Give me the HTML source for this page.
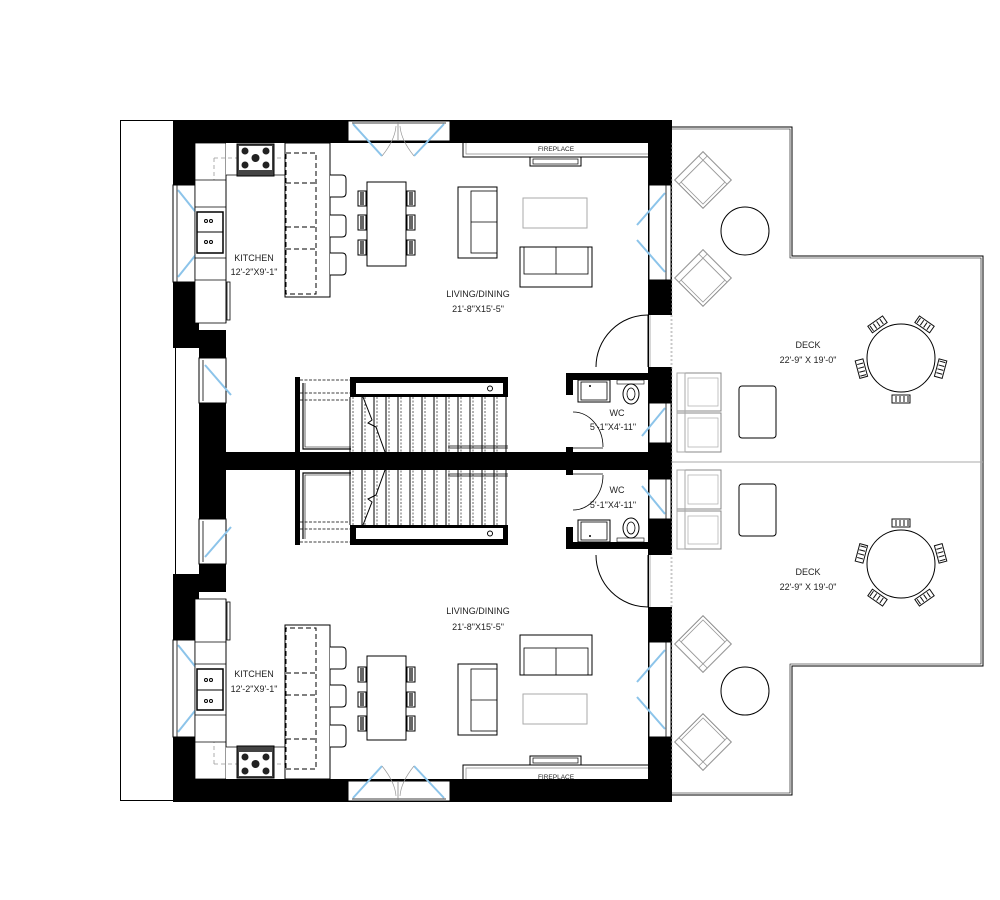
<!DOCTYPE html>
<html><head><meta charset="utf-8"><style>
html,body{margin:0;padding:0;background:#fff;width:1000px;height:900px;overflow:hidden}
svg{display:block;background:#fff}
text{font-family:"Liberation Sans",sans-serif;fill:#222}
</style></head><body>
<svg width="1000" height="900" viewBox="0 0 1000 900" xmlns="http://www.w3.org/2000/svg">
<defs>
<g id="chair">
 <rect x="-9" y="-5" width="18" height="8" fill="#fff" stroke="#111" stroke-width="1"/>
 <line x1="-7" y1="-4" x2="-7" y2="2" stroke="#111"/><line x1="-3" y1="-4" x2="-3" y2="2" stroke="#111"/><line x1="1" y1="-4" x2="1" y2="2" stroke="#111"/><line x1="5" y1="-4" x2="5" y2="2" stroke="#111"/>
</g>
<g id="arm">
 <rect x="-20" y="-20" width="40" height="40" fill="#fff" stroke="#888" stroke-width="1"/>
 <rect x="-14" y="-14" width="31" height="31" fill="none" stroke="#999" stroke-width="0.8"/>
 <rect x="-20" y="-20" width="6" height="40" fill="none" stroke="#999" stroke-width="0.8"/>
 <rect x="-20" y="-20" width="40" height="6" fill="none" stroke="#999" stroke-width="0.8"/>
</g>
<g id="half">
 <polygon points="672,128 791,128 791,257 982,257 982,462 672,462" fill="#fff" stroke="none"/>
 <!-- walls -->
 <rect x="173" y="120" width="499" height="23" fill="#000"/>
 <rect x="173" y="120" width="22" height="228" fill="#000"/>
 <rect x="173" y="282" width="26" height="66" fill="#000"/>
 <rect x="199" y="330" width="27" height="132" fill="#000"/>
 <rect x="648" y="120" width="24" height="342" fill="#000"/>
 <rect x="199" y="452" width="473" height="10" fill="#000"/>
 <!-- top window -->
 <rect x="348" y="121" width="102" height="20" fill="#fff" stroke="#000" stroke-width="1"/>
 <line x1="352" y1="123" x2="446" y2="123" stroke="#000" stroke-width="0.8"/>
 <line x1="398" y1="121" x2="398" y2="141" stroke="#888" stroke-width="0.8"/>
 <line x1="353" y1="124" x2="382" y2="156" stroke="#8cc4ea" stroke-width="2"/>
 <line x1="444" y1="124" x2="414" y2="156" stroke="#8cc4ea" stroke-width="2"/>
 <path d="M382 156 Q395 140 396 126 M414 156 Q401 140 400 126" fill="none" stroke="#999" stroke-width="0.7"/>
 <!-- left kitchen window -->
 <rect x="173" y="185" width="22" height="97" fill="#fff" stroke="#000" stroke-width="1"/>
 <line x1="177" y1="185" x2="177" y2="282" stroke="#000" stroke-width="0.8"/>
 <line x1="178" y1="190" x2="198" y2="215" stroke="#8cc4ea" stroke-width="2"/>
 <line x1="178" y1="277" x2="198" y2="252" stroke="#8cc4ea" stroke-width="2"/>
 <!-- small left window -->
 <rect x="199" y="358" width="27" height="45" fill="#fff" stroke="#000" stroke-width="1"/>
 <line x1="203" y1="360" x2="203" y2="401" stroke="#000" stroke-width="0.8"/>
 <line x1="205" y1="365" x2="231" y2="395" stroke="#8cc4ea" stroke-width="2"/>
 <!-- right window -->
 <rect x="649" y="185" width="22" height="95" fill="#fff" stroke="#000" stroke-width="1"/>
 <line x1="666" y1="185" x2="666" y2="280" stroke="#000" stroke-width="0.8"/>
 <line x1="665" y1="193" x2="637" y2="225" stroke="#8cc4ea" stroke-width="2"/>
 <line x1="665" y1="272" x2="637" y2="240" stroke="#8cc4ea" stroke-width="2"/>
 <!-- door opening -->
 <rect x="649" y="315" width="23" height="52" fill="#fff"/>
 <line x1="650" y1="315" x2="650" y2="367" stroke="#999" stroke-width="0.8"/>
 <line x1="671" y1="315" x2="671" y2="367" stroke="#bbb" stroke-width="0.8" stroke-dasharray="2 2"/>
 <path d="M648 315 A52 52 0 0 0 596 367" fill="none" stroke="#000" stroke-width="1"/>
 <line x1="648" y1="315" x2="648" y2="367" stroke="#000" stroke-width="1"/>
 <!-- WC window -->
 <rect x="649" y="403" width="22" height="40" fill="#fff" stroke="#000" stroke-width="1"/>
 <line x1="666" y1="403" x2="666" y2="443" stroke="#000" stroke-width="0.8"/>
 <line x1="665" y1="408" x2="642" y2="436" stroke="#8cc4ea" stroke-width="2"/>
 <!-- fireplace -->
 <path d="M463 143 V157 H648" fill="none" stroke="#000" stroke-width="1"/>
 <path d="M466 143 V154 H648" fill="none" stroke="#888" stroke-width="0.7"/>
 <rect x="530" y="157" width="51" height="9" fill="#fff" stroke="#000" stroke-width="1"/>
 <rect x="533" y="159" width="45" height="5" fill="none" stroke="#000" stroke-width="0.7"/>
 <!-- kitchen counters -->
 <rect x="195" y="143" width="31" height="180" fill="#fff" stroke="#000" stroke-width="0.8"/>
 <rect x="226" y="143" width="104" height="32" fill="#fff" stroke="none"/>
 <line x1="226" y1="175" x2="285" y2="175" stroke="#000" stroke-width="0.8"/>
 <line x1="226" y1="175" x2="226" y2="323" stroke="#000" stroke-width="0.8"/>
 <line x1="214" y1="158" x2="285" y2="158" stroke="#999" stroke-width="0.8" stroke-dasharray="4 3"/>
 <line x1="214" y1="158" x2="214" y2="180" stroke="#999" stroke-width="0.8" stroke-dasharray="4 3"/>
 <line x1="195" y1="180" x2="226" y2="180" stroke="#000" stroke-width="0.8"/>
 <line x1="195" y1="207" x2="226" y2="207" stroke="#000" stroke-width="0.8"/>
 <line x1="195" y1="258" x2="226" y2="258" stroke="#000" stroke-width="0.8"/>
 <line x1="195" y1="280" x2="226" y2="280" stroke="#000" stroke-width="0.8"/>
 <rect x="197" y="212" width="26" height="41" fill="#fff" stroke="#000" stroke-width="1.5"/>
 <line x1="197" y1="232" x2="223" y2="232" stroke="#000" stroke-width="1"/>
 <circle cx="206" cy="221" r="1.5" fill="none" stroke="#000"/><circle cx="211" cy="221" r="1.5" fill="none" stroke="#000"/>
 <circle cx="206" cy="242" r="1.5" fill="none" stroke="#000"/><circle cx="211" cy="242" r="1.5" fill="none" stroke="#000"/>
 <rect x="227" y="282" width="3" height="38" fill="#fff" stroke="#000" stroke-width="0.8"/>
 <!-- stove -->
 <rect x="237" y="144" width="37" height="32" fill="#444" stroke="#000"/>
 <rect x="239" y="146" width="33" height="24" fill="#fff"/>
 <circle cx="245" cy="151" r="3.5" fill="#222"/><circle cx="266" cy="151" r="3.5" fill="#222"/>
 <circle cx="245" cy="165" r="3.5" fill="#222"/><circle cx="266" cy="165" r="3.5" fill="#222"/>
 <circle cx="255.5" cy="158" r="4" fill="#222"/>
 <!-- island -->
 <rect x="285" y="143" width="45" height="154" fill="#fff" stroke="#000" stroke-width="1"/>
 <rect x="286" y="153" width="30" height="141" fill="none" stroke="#000" stroke-width="1" stroke-dasharray="5 3"/>
 <path d="M286 183 H316 M286 227 H316 M286 249 H316" stroke="#000" stroke-width="1" stroke-dasharray="5 3" fill="none"/>
 <path d="M330 175 H342 Q346 175 346 179 V193 Q346 197 342 197 H330" fill="#fff" stroke="#000"/>
 <path d="M330 215 H342 Q346 215 346 219 V233 Q346 237 342 237 H330" fill="#fff" stroke="#000"/>
 <path d="M330 253 H342 Q346 253 346 257 V271 Q346 275 342 275 H330" fill="#fff" stroke="#000"/>
 <!-- dining table -->
 <rect x="367" y="182" width="39" height="84" fill="#fff" stroke="#000"/>
 <g fill="#fff" stroke="#000">
 <rect x="358" y="191" width="8" height="15"/><rect x="358" y="215" width="8" height="15"/><rect x="358" y="240" width="8" height="15"/>
 <rect x="407" y="191" width="8" height="15"/><rect x="407" y="215" width="8" height="15"/><rect x="407" y="240" width="8" height="15"/>
 </g>
 <path d="M361 192 V205 M363 192 V205 M361 216 V229 M363 216 V229 M361 241 V254 M363 241 V254 M410 192 V205 M412 192 V205 M410 216 V229 M412 216 V229 M410 241 V254 M412 241 V254" stroke="#000" stroke-width="1.2" fill="none"/>
 <!-- sofas -->
 <rect x="458" y="187" width="39" height="71" fill="#fff" stroke="#000"/>
 <rect x="471" y="191" width="26" height="62" fill="none" stroke="#000" stroke-width="0.8"/>
 <line x1="471" y1="222" x2="497" y2="222" stroke="#000" stroke-width="0.8"/>
 <rect x="523" y="198" width="64" height="30" fill="none" stroke="#aaa"/>
 <rect x="520" y="247" width="72" height="40" fill="#fff" stroke="#000"/>
 <rect x="524" y="247" width="64" height="27" fill="none" stroke="#000" stroke-width="0.8"/>
 <line x1="556" y1="247" x2="556" y2="274" stroke="#000" stroke-width="0.8"/>
 <!-- WC -->
 <rect x="566" y="373" width="82" height="7" fill="#000"/>
 <rect x="566" y="373" width="7" height="22" fill="#000"/>
 <rect x="566" y="447" width="7" height="6" fill="#000"/>
 <rect x="578" y="380" width="32" height="22" fill="#fff" stroke="#000"/>
 <rect x="581" y="382" width="26" height="18" fill="none" stroke="#000" stroke-width="0.8"/>
 <circle cx="590" cy="386" r="1" fill="#000"/>
 <rect x="617" y="380" width="27" height="4" fill="#fff" stroke="#000" stroke-width="0.6"/>
 <ellipse cx="631" cy="394" rx="8" ry="10" fill="#fff" stroke="#000"/>
 <ellipse cx="631" cy="394" rx="4" ry="6" fill="none" stroke="#000" stroke-width="0.8"/>
 <path d="M573 412 A30 35 0 0 1 603 447" fill="none" stroke="#000" stroke-width="0.8"/>
 <line x1="573" y1="448" x2="603" y2="448" stroke="#000" stroke-width="0.8"/>
 <!-- stairs -->
 <rect x="295" y="377" width="5" height="75" fill="#000"/>
 <rect x="350" y="377" width="158" height="20" fill="#000"/>
 <rect x="356" y="383" width="147" height="11" fill="#fff"/>
 <circle cx="490" cy="388.5" r="2.5" fill="none" stroke="#000"/>
 <path d="M300 380 H350 M300 393 H350 M300 400 H350" stroke="#000" stroke-width="0.8" stroke-dasharray="3 1.5" fill="none"/>
 <path d="M303 383 V449 H351" fill="none" stroke="#000" stroke-width="1.2"/>
 <path d="M305 383 V447 H351" fill="none" stroke="#000" stroke-width="0.6"/>
 <g stroke="#000" stroke-width="1">
 <line x1="350" y1="397" x2="350" y2="452"/><line x1="362" y1="397" x2="362" y2="452"/><line x1="374" y1="397" x2="374" y2="452"/><line x1="386" y1="397" x2="386" y2="452"/><line x1="398" y1="397" x2="398" y2="452"/><line x1="410" y1="397" x2="410" y2="452"/><line x1="422" y1="397" x2="422" y2="452"/><line x1="434" y1="397" x2="434" y2="452"/><line x1="446" y1="397" x2="446" y2="452"/><line x1="458" y1="397" x2="458" y2="452"/><line x1="470" y1="397" x2="470" y2="452"/><line x1="482" y1="397" x2="482" y2="452"/><line x1="494" y1="397" x2="494" y2="452"/><line x1="506" y1="397" x2="506" y2="452"/>
 </g>
 <g stroke="#000" stroke-width="0.6" stroke-dasharray="2 1.5">
 <line x1="353" y1="397" x2="353" y2="452"/><line x1="365" y1="397" x2="365" y2="452"/><line x1="377" y1="397" x2="377" y2="452"/><line x1="389" y1="397" x2="389" y2="452"/><line x1="401" y1="397" x2="401" y2="452"/><line x1="413" y1="397" x2="413" y2="452"/><line x1="425" y1="397" x2="425" y2="452"/><line x1="437" y1="397" x2="437" y2="452"/><line x1="449" y1="397" x2="449" y2="452"/><line x1="461" y1="397" x2="461" y2="452"/><line x1="473" y1="397" x2="473" y2="452"/><line x1="485" y1="397" x2="485" y2="452"/><line x1="497" y1="397" x2="497" y2="452"/>
 </g>
 <path d="M363 397 L372 420 L368 423 L376 427 L385 452" fill="none" stroke="#000" stroke-width="1"/>
 <path d="M448 448 H508 M448 446 H508" stroke="#000" stroke-width="0.8" fill="none"/>
 <!-- deck -->
 <path d="M672 127 H792 V256 H983 V462" fill="none" stroke="#000" stroke-width="1"/>
 <path d="M672 129 H790 V258 H981 V462" fill="none" stroke="#000" stroke-width="0.6"/>
 <line x1="672" y1="143" x2="672" y2="462" stroke="#bbb" stroke-width="0.8" stroke-dasharray="2 2"/>
 <use href="#arm" transform="translate(703,180) rotate(45)"/>
 <use href="#arm" transform="translate(703,278) rotate(45)"/>
 <circle cx="745" cy="231" r="24" fill="#fff" stroke="#000" stroke-width="1"/>
 <use href="#chair" transform="translate(901,358) rotate(-35) translate(0,-40)"/>
 <use href="#chair" transform="translate(901,358) rotate(35) translate(0,-40)"/>
 <use href="#chair" transform="translate(901,358) rotate(-105) translate(0,-40)"/>
 <use href="#chair" transform="translate(901,358) rotate(105) translate(0,-40)"/>
 <use href="#chair" transform="translate(901,358) rotate(180) translate(0,-40)"/>
 <circle cx="901" cy="358" r="34" fill="#fff" stroke="#000" stroke-width="1"/>
 <rect x="677" y="373" width="44" height="38" fill="#fff" stroke="#888"/>
 <rect x="677" y="413" width="44" height="39" fill="#fff" stroke="#888"/>
 <rect x="677" y="373" width="8" height="79" fill="none" stroke="#aaa"/>
 <rect x="688" y="378" width="30" height="28" fill="none" stroke="#aaa" stroke-width="0.7"/>
 <rect x="688" y="418" width="30" height="29" fill="none" stroke="#aaa" stroke-width="0.7"/>
 <rect x="739" y="386" width="37" height="52" rx="3" fill="#fff" stroke="#000"/>
</g>
</defs>
<rect x="0" y="0" width="1000" height="900" fill="#fff"/>
<!-- left strip -->
<rect x="120.5" y="120.5" width="55" height="680" fill="#fff" stroke="#000" stroke-width="1"/>
<use href="#half"/>
<use href="#half" transform="translate(0,922) scale(1,-1)"/>
<line x1="672" y1="462" x2="983" y2="462" stroke="#aaa" stroke-width="1"/>
<!-- labels -->
<g font-size="9" text-anchor="middle">
<text x="254" y="261">KITCHEN</text><text x="254" y="275">12'-2"X9'-1"</text>
<text x="478" y="297">LIVING/DINING</text><text x="478" y="312">21'-8"X15'-5"</text>
<text x="617" y="416">WC</text><text x="613" y="430">5'-1"X4'-11"</text>
<text x="808" y="348">DECK</text><text x="808" y="363">22'-9" X 19'-0"</text>
<text x="254" y="677">KITCHEN</text><text x="254" y="692">12'-2"X9'-1"</text>
<text x="478" y="614">LIVING/DINING</text><text x="478" y="630">21'-8"X15'-5"</text>
<text x="617" y="493">WC</text><text x="613" y="508">5'-1"X4'-11"</text>
<text x="808" y="575">DECK</text><text x="808" y="590">22'-9" X 19'-0"</text>
</g>
<g font-size="6.5" text-anchor="middle">
<text x="556" y="151">FIREPLACE</text>
<text x="556" y="779">FIREPLACE</text>
</g>
</svg>
</body></html>
